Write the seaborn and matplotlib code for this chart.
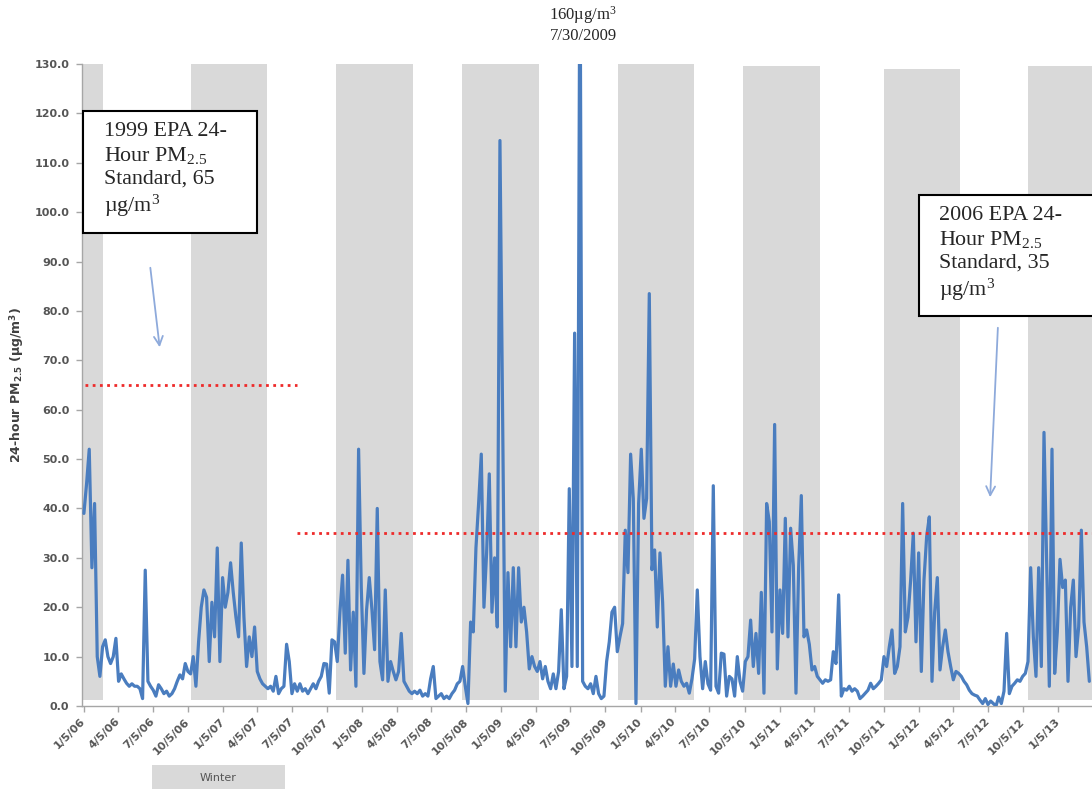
import numpy as np
import pandas as pd
import matplotlib
matplotlib.use("Agg")
import matplotlib.pyplot as plt
import matplotlib.dates as mdates
from matplotlib.patches import Rectangle
import seaborn as sns

# ---------------- data ----------------
start_date = "2006-01-05"   # first weekly sample
pm25 = [
    # 2006 - mid 2007
    39, 45, 52, 28, 41, 10, 6, 12, 13.4, 10,
    8.6, 10, 13.7, 5, 6.5, 5.5, 4.6, 4, 4.5, 4,
    4, 3.5, 1.5, 27.5, 5, 4, 3.2, 2, 4.3, 3.5,
    2.5, 3, 2, 2.5, 3.5, 5, 6.3, 5.5, 8.6, 7,
    6.5, 10, 4, 13, 20, 23.5, 22, 9, 21, 14,
    32, 9, 26, 20, 23, 29, 23, 18, 14, 33,
    18, 8, 14, 10, 16, 7, 5.5, 4.5, 4, 3.5,
    4, 3, 6, 2.5, 3.5, 4, 12.5,
    # mid 2007 - late 2008
    9, 2.5, 4.5, 3, 4.5, 3, 3.5, 2.5, 3.5, 4.5,
    3.5, 5, 6, 8.6, 8.5, 2.6, 13.4, 13, 9, 19,
    26.5, 10.7, 29.5, 7.3, 19, 4, 52, 24, 6.6, 19.5,
    26, 19.5, 11.4, 40, 9, 5.3, 23.5, 5, 9, 7,
    5.3, 7, 14.7, 5, 4, 3, 2.5, 3, 2.5, 3.2,
    2, 2.5, 2, 5.5, 8, 1.5, 2, 2.5, 1.5, 2,
    1.5, 2.5, 3.2, 4.5, 5, 8, 4, 0.5, 17, 15,
    32, 41, 51, 20, 31, 47,
    # late 2008 - 2010
    19, 30, 16, 114.5, 59, 3, 27, 12, 28, 12,
    28, 17, 20, 15, 7.5, 10, 8, 7, 9, 5.5,
    8, 5, 3.5, 6.5, 3.5, 7, 19.5, 3.5, 6, 44,
    8, 75.5, 8, 160, 5, 4, 3.5, 4.5, 2.5, 6,
    2.5, 1.5, 2, 9, 13, 19, 20, 11, 14, 16.7,
    35.6, 27, 51, 42, 0.5, 41, 52, 38, 42, 83.5,
    27.6, 31.6, 16, 31, 21, 4, 12, 4, 8.5, 4,
    7.3, 5, 4, 4.6, 2.6,
    # 2010 - 2011
    5.5, 9.5, 23.5, 10, 3.5, 9, 4.5, 3.2, 44.6, 4,
    2.6, 10.7, 10.5, 2, 6, 5.5, 2, 10, 5, 3,
    9, 10, 17.4, 8, 14.7, 6.6, 23, 2.6, 41, 37.3,
    15, 57, 7.5, 23.5, 14.7, 38, 14, 36, 28.5, 2.6,
    28, 42.6, 14, 15.4, 12.5, 7.3, 8, 6, 5.3, 4.6,
    5.3, 5, 5.3, 11, 8.6, 22.5, 2, 3.5, 3.2, 4,
    3, 3.5, 3, 1.5, 2, 2.6, 3.2, 4.6, 3.5, 4,
    4.6, 5.3, 10, 8, 12,
    # late 2011 - 2013
    15.4, 6.6, 8, 12, 41, 15, 18, 25.5, 35, 13,
    31, 7, 25.5, 34.3, 38.3, 5, 19, 26, 7.3, 12,
    15.4, 11, 8, 5.3, 7, 6.6, 6, 5, 4.3, 3.2,
    2.5, 2.2, 2, 1.2, 0.5, 1.5, 0.3, 1, 0.5, 0,
    1.8, 0.5, 3, 14.7, 2.5, 4, 4.6, 5.3, 5, 6,
    6.6, 9, 28, 14, 6, 28, 8, 55.4, 29, 4,
    52, 6.6, 15, 29.7, 24, 25.5, 5, 20, 25.5, 10,
    16, 35.6, 17, 12, 5,
]

winter_start = ["2005-12-25", "2006-10-12", "2007-10-28", "2008-09-23",
                "2009-11-06", "2010-10-01", "2011-10-06", "2012-10-18"]
winter_end = ["2006-02-24", "2007-04-30", "2008-05-17", "2009-04-13",
              "2010-05-25", "2011-04-21", "2012-04-22", "2013-06-01"]
winter_top = [130, 130, 130, 130, 130, 129.5, 129, 129.5]

std_level = [65, 35]
std_start = ["2006-01-07", "2007-07-18"]
std_end = ["2007-07-18", "2013-04-04"]

x_tick_labels = ["1/5/06", "4/5/06", "7/5/06", "10/5/06",
                 "1/5/07", "4/5/07", "7/5/07", "10/5/07",
                 "1/5/08", "4/5/08", "7/5/08", "10/5/08",
                 "1/5/09", "4/5/09", "7/5/09", "10/5/09",
                 "1/5/10", "4/5/10", "7/5/10", "10/5/10",
                 "1/5/11", "4/5/11", "7/5/11", "10/5/11",
                 "1/5/12", "4/5/12", "7/5/12", "10/5/12",
                 "1/5/13"]
y_ticks = [0, 10, 20, 30, 40, 50, 60, 70, 80, 90, 100, 110, 120, 130]

x_limits = ["2005-12-31", "2013-04-04"]

# ---------------- figure ----------------
sns.set_style("white")
plt.rcParams["font.family"] = ["DejaVu Sans"]
plt.rcParams["mathtext.fontset"] = "custom"
plt.rcParams["mathtext.rm"] = "Liberation Serif"
plt.rcParams["mathtext.it"] = "Liberation Serif:italic"
plt.rcParams["mathtext.sf"] = "DejaVu Sans:bold"

W, H = 1092, 789
fig = plt.figure(figsize=(W / 100, H / 100), dpi=100)
ax = fig.add_axes([82 / W, 1 - 706 / H, 1 - 82 / W, (706 - 64) / H])

df = pd.DataFrame({
    "date": pd.date_range(start_date, periods=len(pm25), freq="7D"),
    "pm": pm25,
})

# winter shading
for s, e, t in zip(winter_start, winter_end, winter_top):
    ax.axvspan(pd.Timestamp(s), pd.Timestamp(e), ymin=0.009, ymax=t / 130,
               color="#d9d9d9", lw=0, zorder=0)

sns.lineplot(data=df, x="date", y="pm", ax=ax, color="#4a7dbf",
             linewidth=2.3, zorder=3, legend=False)

# standards
for lvl, s, e in zip(std_level, std_start, std_end):
    ax.plot([pd.Timestamp(s), pd.Timestamp(e)], [lvl, lvl], color="#ee2a2a",
            linewidth=2.0, linestyle=(0, (1, 1.6)), zorder=4)

ax.set_xlim(pd.Timestamp(x_limits[0]), pd.Timestamp(x_limits[1]))
ax.set_ylim(0, 130)

tick_dates = pd.to_datetime(x_tick_labels, format="%m/%d/%y")
ax.set_xticks(tick_dates)
ax.set_xticklabels(x_tick_labels, rotation=45, ha="right", va="center",
                   rotation_mode="anchor", fontsize=8, fontweight="bold",
                   color="#555555")
ax.set_yticks(y_ticks)
ax.set_yticklabels([f"{v:.1f}" for v in y_ticks], fontsize=8,
                   fontweight="bold", color="#555555")
ax.tick_params(axis="both", which="major", direction="out", length=4,
               width=1, color="#a6a6a6", bottom=True, left=True)
ax.tick_params(axis="x", pad=6)
ax.tick_params(axis="y", pad=5)

for side in ["top", "right"]:
    ax.spines[side].set_visible(False)
for side in ["left", "bottom"]:
    ax.spines[side].set_color("#a6a6a6")
    ax.spines[side].set_linewidth(1)

ax.set_xlabel("")
ax.set_ylabel("24-hour PM$_{\\mathsf{2.5}}$ (\u00b5g/m$^{\\mathsf{3}}$)",
              fontsize=9, fontweight="bold", color="#404040")
ax.yaxis.set_label_coords(-0.0554, 0.5)
ax.grid(False)

serif = ["Liberation Serif", "DejaVu Serif"]

# text boxes
def px_rect(x0, y0, x1, y1, **kw):
    r = Rectangle((x0 / W, 1 - y1 / H), (x1 - x0) / W, (y1 - y0) / H,
                  transform=fig.transFigure, **kw)
    fig.add_artist(r)

box_text_kw = dict(family=serif, fontsize=15.8, va="top", ha="left",
                   linespacing=1.24, zorder=11)

px_rect(83, 111, 257, 233, facecolor="white", edgecolor="black", lw=1.5, zorder=10)
fig.text(104 / W, 1 - 122 / H,
         "1999 EPA 24-\nHour PM$_{2.5}$\nStandard, 65\n\u00b5g/m$^{3}$",
         **box_text_kw)

px_rect(919, 195, 1110, 316, facecolor="white", edgecolor="black", lw=1.5, zorder=10)
fig.text(939 / W, 1 - 206 / H,
         "2006 EPA 24-\nHour PM$_{2.5}$\nStandard, 35\n\u00b5g/m$^{3}$",
         **box_text_kw)

# peak annotation
fig.text(583 / W, 1 - 15 / H, "160\u00b5g/m$^{3}$", family=serif, fontsize=12,
         ha="center", va="center")
fig.text(583 / W, 1 - 36 / H, "7/30/2009", family=serif, fontsize=12,
         ha="center", va="center")

# arrows
arrow_kw = dict(arrowstyle="->", color="#8eaadb", lw=1.3, mutation_scale=16)
ax.annotate("", xy=(160, H - 350), xytext=(150, H - 265),
            xycoords="figure pixels", textcoords="figure pixels",
            arrowprops=arrow_kw, annotation_clip=False)
ax.annotate("", xy=(990, H - 500), xytext=(998, H - 325),
            xycoords="figure pixels", textcoords="figure pixels",
            arrowprops=arrow_kw, annotation_clip=False)

# winter legend patch
px_rect(152, 765, 285, 800, facecolor="#d9d9d9", edgecolor="none", zorder=5)
fig.text(218 / W, 1 - 778 / H, "Winter", fontsize=8, color="#555555",
         ha="center", va="center", zorder=6)

fig.savefig("out.png", dpi=100)
